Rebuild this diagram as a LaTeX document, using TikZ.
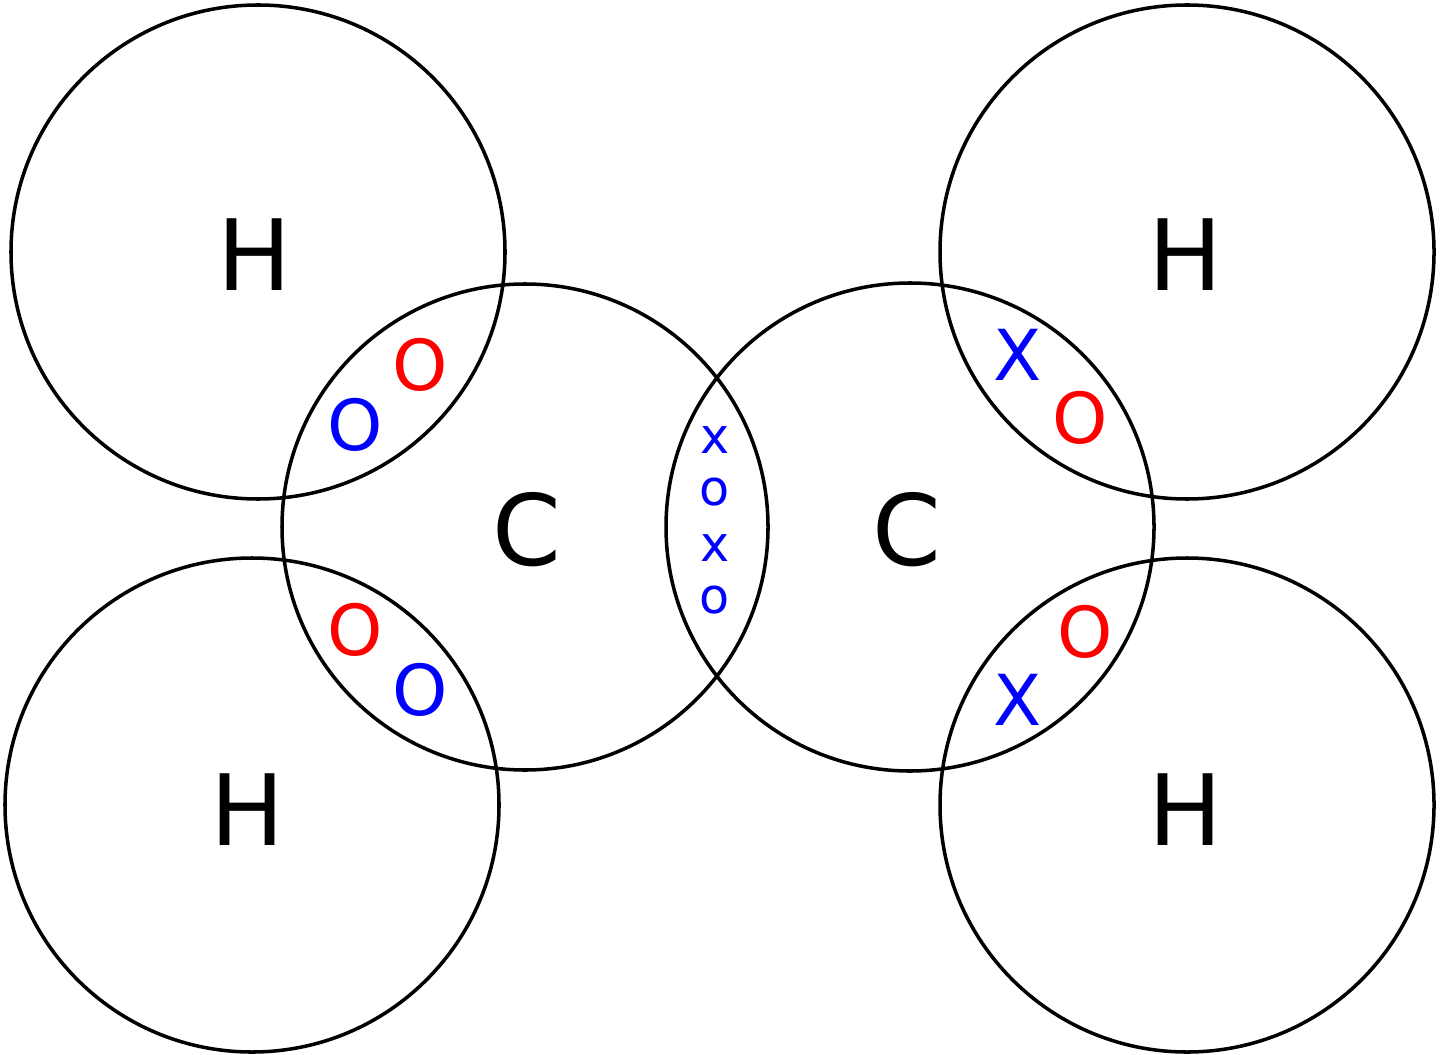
\documentclass[tikz,border=0pt]{standalone}
\usepackage{fontspec}
\setmainfont{DejaVu Sans}
\begin{document}
\begin{tikzpicture}[x=0.01cm,y=-0.01cm,
  orb/.style={draw=black,line width=1pt,circle},
  atom/.style={font=\fontsize{28}{30}\selectfont},
  el/.style={font=\fontsize{20}{22}\selectfont,inner sep=0pt},
  sm/.style={font=\fontsize{14}{16}\selectfont,inner sep=0pt,text=blue}]
\useasboundingbox (0,0) rectangle (1440,1055);
\draw[line width=1pt] (258,252) circle (247) (252,805) circle (247)
  (1187,252) circle (247) (1187,805) circle (247)
  (525,527) circle (243) (910,527) circle (244);
\node[atom] (h1) at (255,255) {H};
\node[atom] (h2) at (248,810) {H};
\node[atom] (h3) at (1185,255) {H};
\node[atom] (h4) at (1185,810) {H};
\node[atom] (c1) at (527,530) {C};
\node[atom] (c2) at (907,530) {C};
\node[el,text=red] (e1) at (420,365) {O};
\node[el,text=blue] (e2) at (355,425) {O};
\node[el,text=red] (e3) at (355,630) {O};
\node[el,text=blue] (e4) at (420,690) {O};
\node[el,text=blue] (e5) at (1018,355) {X};
\node[el,text=red] (e6) at (1080,418) {O};
\node[el,text=red] (e7) at (1085,632) {O};
\node[el,text=blue] (e8) at (1018,700) {X};
\node[sm] (m1) at (715,440) {x};
\node[sm] (m2) at (715,492) {o};
\node[sm] (m3) at (715,548) {x};
\node[sm] (m4) at (715,600) {o};
\end{tikzpicture}
\end{document}
